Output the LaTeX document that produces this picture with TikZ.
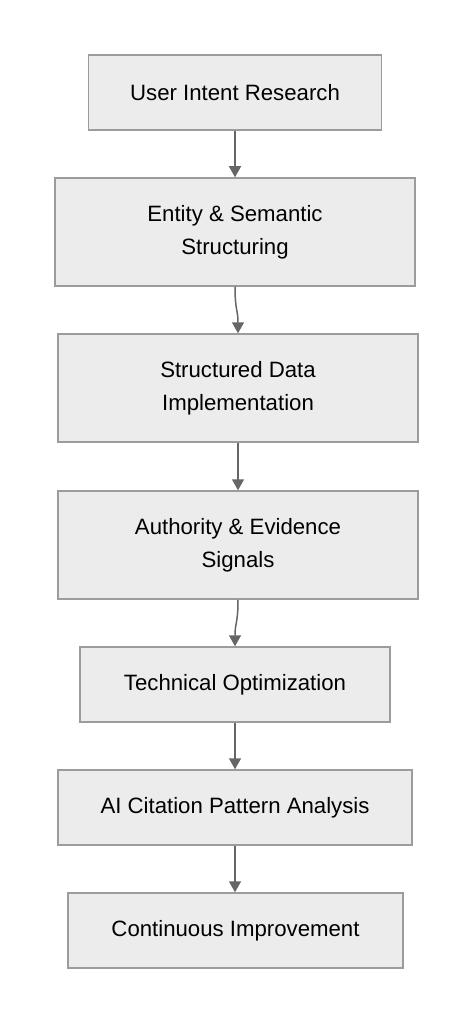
\documentclass[tikz,border=0pt]{standalone}
\usepackage{fontspec}
\setmainfont{Liberation Sans}
\usetikzlibrary{arrows.meta}
\definecolor{boxfill}{HTML}{ECECEC}
\definecolor{boxline}{HTML}{9C9C9C}
\definecolor{flowline}{HTML}{666666}

\begin{document}
\begin{tikzpicture}[x=1pt, y=-1pt,
  box/.style={draw=boxline, fill=boxfill, line width=1.5pt, inner sep=0pt,
    align=center, font=\fontsize{22.2}{33}\selectfont},
  flow/.style={draw=flowline, line width=1.5pt, -{Triangle[length=11pt,width=12pt]}}]
  \fill[white] (0,0) rectangle (473,1024);
  \useasboundingbox (0,0) rectangle (473,1024);
  % steps, top to bottom
  \node[box, minimum width=293, minimum height=75] (intent) at (235,92.5) {User Intent Research};
  \node[box, minimum width=360, minimum height=108] (entity) at (235,232) {Entity \& Semantic\\Structuring};
  \node[box, minimum width=360, minimum height=108] (data) at (238,388) {Structured Data\\Implementation};
  \node[box, minimum width=360, minimum height=108] (authority) at (238,545) {Authority \& Evidence\\Signals};
  \node[box, minimum width=310, minimum height=75] (tech) at (235,684.5) {Technical Optimization};
  \node[box, minimum width=354, minimum height=75] (citation) at (235,807.5) {AI Citation Pattern Analysis};
  \node[box, minimum width=335, minimum height=75] (improve) at (235.5,930.5) {Continuous Improvement};
  % connectors
  \draw[flow] (intent.south) -- (entity.north);
  \draw[flow] (entity.south) .. controls +(0,24) and +(0,-24) .. (data.north);
  \draw[flow] (data.south) -- (authority.north);
  \draw[flow] (authority.south) .. controls +(0,24) and +(0,-24) .. (tech.north);
  \draw[flow] (tech.south) -- (citation.north);
  \draw[flow] (citation.south) -- (improve.north -| citation.south);
\end{tikzpicture}
\end{document}
